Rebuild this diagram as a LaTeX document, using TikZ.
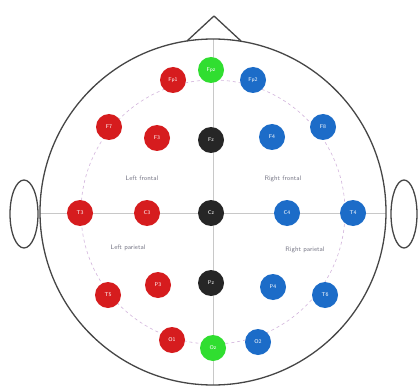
\documentclass[tikz,border=0pt]{standalone}
\usepackage{tikz}
\begin{document}
\begin{tikzpicture}[x=1pt,y=-1pt,
  el/.style={circle,minimum size=26pt,inner sep=0pt,text=white,font=\fontsize{5.5}{6}\selectfont\sffamily},
  lefte/.style={el,fill=elred},
  righte/.style={el,fill=elblue},
  mide/.style={el,fill=elblack},
  refe/.style={el,fill=elgreen},
  headline/.style={draw=headgray,line width=1.3pt},
  guide/.style={draw=guidegray,line width=0.8pt},
  inner/.style={draw=innerpink,line width=0.6pt,dashed},
  region/.style={font=\fontsize{6.5}{7}\selectfont\sffamily,text=regiongray}
]
\definecolor{elred}{RGB}{214,28,30}
\definecolor{elblue}{RGB}{28,108,200}
\definecolor{elblack}{RGB}{38,38,38}
\definecolor{elgreen}{RGB}{48,222,48}
\definecolor{headgray}{RGB}{70,70,70}
\definecolor{guidegray}{RGB}{200,200,200}
\definecolor{innerpink}{RGB}{210,180,220}
\definecolor{regiongray}{RGB}{120,120,135}
\useasboundingbox (0,0) rectangle (419,387);
\fill[white] (0,0) rectangle (419,387);
% head
\coordinate (hc) at (213,212);
\coordinate (htop) at (213,39);
\coordinate (hbot) at (213,385);
\coordinate (hleft) at (40,213);
\coordinate (hright) at (386,213);
\draw[inner] (hc) circle[radius=132];
\draw[guide] (htop) -- (hbot);
\draw[guide] (hleft) -- (hright);
\draw[headline] (hc) circle[radius=173];
% nose
\coordinate (nl) at (187,41);
\coordinate (nt) at (214,16);
\coordinate (nr) at (241,41);
\draw[headline,line join=round] (nl) -- (nt) -- (nr);
% ears
\draw[headline,fill=white] (24,214) ellipse[x radius=14,y radius=34];
\draw[headline,fill=white] (404,214) ellipse[x radius=13,y radius=34];
% region labels
\node[region] (lf) at (142,178) {Left frontal};
\node[region] (rf) at (283,179) {Right frontal};
\node[region] (lp) at (128,248) {Left parietal};
\node[region] (rp) at (305,250) {Right parietal};
% electrodes
\node[refe] (fpz) at (211,70) {Fpz};
\node[lefte] (fp1) at (173,80) {Fp1};
\node[righte] (fp2) at (253,80) {Fp2};
\node[lefte] (f7) at (109,127) {F7};
\node[lefte] (f3) at (157,138) {F3};
\node[mide] (fz) at (211,140) {Fz};
\node[righte] (f4) at (272,137) {F4};
\node[righte] (f8) at (323,127) {F8};
\node[lefte] (t3) at (80,213) {T3};
\node[lefte] (c3) at (147,213) {C3};
\node[mide] (cz) at (211,213) {Cz};
\node[righte] (c4) at (287,213) {C4};
\node[righte] (t4) at (353,213) {T4};
\node[lefte] (t5) at (108,295) {T5};
\node[lefte] (p3) at (158,285) {P3};
\node[mide] (pz) at (211,283) {Pz};
\node[righte] (p4) at (273,287) {P4};
\node[righte] (t6) at (325,295) {T6};
\node[lefte] (o1) at (172,340) {O1};
\node[refe] (oz) at (213,348) {Oz};
\node[righte] (o2) at (258,342) {O2};
\end{tikzpicture}
\end{document}
